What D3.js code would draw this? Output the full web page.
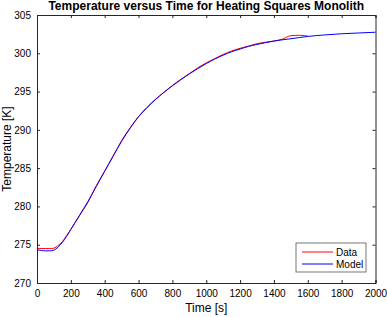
<!DOCTYPE html>
<html>
<head>
<meta charset="utf-8">
<script src="https://cdn.jsdelivr.net/npm/d3@7"></script>
<style>
  body { margin: 0; background: #fff; }
  svg { display: block; font-family: "Liberation Sans", Arial, sans-serif; }
</style>
</head>
<body>
<svg id="chart" width="387" height="317"></svg>
<script>
// measured data
var dataTime = [0,25,50,75,100,125,150,175,200,250,300,350,400,450,500,550,600,650,700,750,800,850,900,950,1000,1050,1100,1150,1200,1250,1300,1350,1400,1450,1500,1550,1580,1600];
var dataTemp = [274.55,274.5,274.5,274.5,274.55,274.9,275.4,276.2,277.0,278.75,280.5,282.7,284.6,286.55,288.6,290.25,291.75,292.95,294.0,294.9,295.8,296.6,297.35,298.1,298.75,299.3,299.85,300.3,300.65,300.95,301.25,301.45,301.6,301.85,302.3,302.35,302.3,302.25];
// model
var modelTime = [0,25,50,75,100,125,150,175,200,225,250,275,300,350,400,450,500,550,600,650,700,750,800,850,900,950,1000,1050,1100,1150,1200,1250,1300,1400,1500,1600,1700,1800,1900,2000];
var modelTemp = [274.35,274.25,274.2,274.2,274.3,274.7,275.3,276.1,277.0,277.9,278.8,279.7,280.6,282.6,284.6,286.6,288.5,290.2,291.7,292.9,293.95,294.9,295.75,296.55,297.3,298.0,298.65,299.25,299.75,300.2,300.55,300.9,301.15,301.6,301.9,302.2,302.4,302.55,302.65,302.75];
var xTicks = [0,200,400,600,800,1000,1200,1400,1600,1800,2000];
var yTicks = [270,275,280,285,290,295,300,305];
var seriesNames = ["Data","Model"];
var seriesColors = ["#ff0000","#0000ff"];

function drawChart() {
  var svg = d3.select("#chart");
  var mLeft = 37, mRight = 375.5, mTop = 15, mBottom = 283;

  var x = d3.scaleLinear().domain([0,2000]).range([mLeft,mRight]);
  var y = d3.scaleLinear().domain([270,305]).range([mBottom,mTop]);
  var axisColor = "#262626";

  var lineGen = d3.line()
    .curve(d3.curveMonotoneX)
    .x(function(d){ return x(d[0]); })
    .y(function(d){ return y(d[1]); });

  svg.append("path")
    .datum(d3.zip(dataTime,dataTemp))
    .attr("d",lineGen)
    .style("fill","none")
    .style("stroke",seriesColors[0])
    .style("stroke-width",1);

  svg.append("path")
    .datum(d3.zip(modelTime,modelTemp))
    .attr("d",lineGen)
    .style("fill","none")
    .style("stroke",seriesColors[1])
    .style("stroke-width",1);

  // axes, ticks inward on all four sides
  var fmt = d3.format("d");
  var xAxis = svg.append("g")
    .attr("transform","translate(0,"+mBottom+")")
    .call(d3.axisBottom(x).tickValues(xTicks).tickSize(-3).tickPadding(7).tickFormat(fmt));
  var xTop = svg.append("g")
    .attr("transform","translate(0,"+mTop+")")
    .call(d3.axisTop(x).tickValues(xTicks).tickSize(-3).tickFormat(""));
  var yAxis = svg.append("g")
    .attr("transform","translate("+mLeft+",0)")
    .call(d3.axisLeft(y).tickValues(yTicks).tickSize(-3).tickPadding(6).tickFormat(fmt));
  var yRight = svg.append("g")
    .attr("transform","translate("+mRight+",0)")
    .call(d3.axisRight(y).tickValues(yTicks).tickSize(-3).tickFormat(""));

  [xAxis,xTop,yAxis,yRight].forEach(function(g){
    g.selectAll("path").attr("stroke",axisColor);
    g.selectAll("line").attr("stroke",axisColor);
    g.selectAll("text").attr("fill","#000").style("font-size","10px").style("font-family","Liberation Sans, Arial, sans-serif");
  });

  svg.append("text")
    .attr("x",(mLeft+mRight)/2).attr("y",10)
    .attr("text-anchor","middle")
    .style("font-size","12px").style("font-weight","bold")
    .text("Temperature versus Time for Heating Squares Monolith");

  svg.append("text")
    .attr("x",(mLeft+mRight)/2).attr("y",312)
    .attr("text-anchor","middle")
    .style("font-size","12px")
    .text("Time [s]");

  svg.append("text")
    .attr("transform","translate(11,"+((mTop+mBottom)/2)+") rotate(-90)")
    .attr("text-anchor","middle")
    .style("font-size","12px")
    .text("Temperature [K]");

  // legend
  var lg = svg.append("g");
  lg.append("rect")
    .attr("x",296).attr("y",243).attr("width",70).attr("height",29)
    .style("fill","#fff").style("stroke","#555").style("stroke-width",0.8);
  seriesNames.forEach(function(label,i){
    var ly = 252 + i*12;
    lg.append("path")
      .attr("d","M302,"+ly+"H333")
      .style("fill","none")
      .style("stroke",seriesColors[i])
      .style("stroke-width",1);
    lg.append("text")
      .attr("x",336).attr("y",ly+3.5)
      .style("font-size","10px")
      .text(label);
  });
}

drawChart();
</script>
</body>
</html>
